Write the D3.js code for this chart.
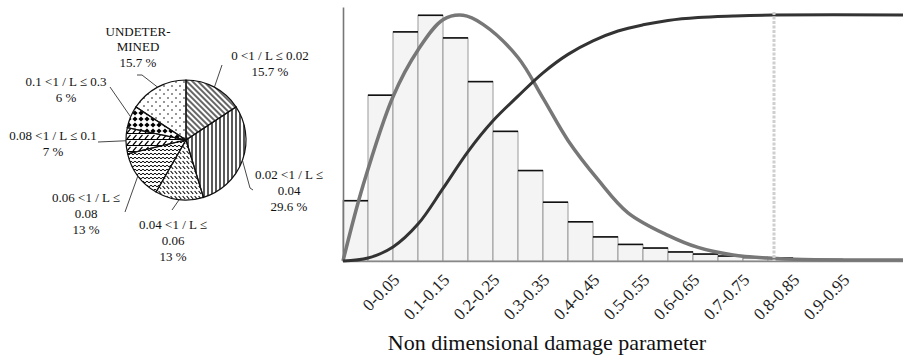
<!DOCTYPE html>
<html>
<head>
<meta charset="utf-8">
<script src="https://cdn.jsdelivr.net/npm/d3@7"></script>
<style>
  body { margin: 0; background: #fff; }
  svg { display: block; font-family: 'Liberation Serif', 'Times New Roman', serif; }
</style>
</head>
<body>
<div id="chart"></div>
<script>
// pie: share of cases per 1/L range
const pieCategories = [
  ['0 <1 / L ≤ 0.02'],
  ['0.02 <1 / L ≤', '0.04'],
  ['0.04 <1 / L ≤', '0.06'],
  ['0.06 <1 / L ≤', '0.08'],
  ['0.08 <1 / L ≤ 0.1'],
  ['0.1 <1 / L ≤ 0.3'],
  ['UNDETER-', 'MINED']
];
const pieValues = [15.7, 29.6, 13, 13, 7, 6, 15.7];

// histogram of the non dimensional damage parameter (% per bin)
const binLabels = ['0-0.05', '0.05-0.1', '0.1-0.15', '0.15-0.2', '0.2-0.25', '0.25-0.3', '0.3-0.35', '0.35-0.4',
  '0.4-0.45', '0.45-0.5', '0.5-0.55', '0.55-0.6', '0.6-0.65', '0.65-0.7', '0.7-0.75', '0.75-0.8',
  '0.8-0.85', '0.85-0.9', '0.9-0.95', '0.95-1'];
const binFreq = [4.0, 11.0, 15.2, 16.3, 14.8, 11.9, 8.6, 6.0, 3.9, 2.6, 1.6, 1.1, 0.86, 0.6, 0.46, 0.33, 0.23, 0.2, 0.13, 0.1];

// fitted density (same units as bins) and cumulative curve
const pdfX = [0, 0.04, 0.1, 0.15, 0.2, 0.24, 0.28, 0.35, 0.4, 0.45, 0.51, 0.57, 0.65, 0.71, 0.78, 0.85, 0.92, 1.12];
const pdfY = [0, 5.0, 10.9, 14.0, 16.0, 16.3, 15.7, 13.5, 10.8, 8.0, 5.4, 3.2, 1.7, 0.9, 0.4, 0.2, 0.1, 0.07];
const cdfX = [0, 0.05, 0.1, 0.15, 0.2, 0.25, 0.3, 0.35, 0.4, 0.45, 0.5, 0.55, 0.6, 0.65, 0.71, 0.78, 0.86, 1.12];
const cdfY = [0, 0.012, 0.057, 0.15, 0.295, 0.445, 0.57, 0.67, 0.765, 0.84, 0.895, 0.935, 0.96, 0.978, 0.99, 0.996, 1.0, 1.0];
const damageLimit = 0.862;

const W = 903, H = 359;
const svg = d3.select('#chart').append('svg').attr('width', W).attr('height', H);

function createPatterns(defs) {
  const pat = (id, w, h) => defs.append('pattern').attr('id', id)
    .attr('patternUnits', 'userSpaceOnUse').attr('width', w).attr('height', h);

  let p = pat('p-back', 4, 4).attr('patternTransform', 'rotate(-45)');
  p.append('line').attr('x1', 2).attr('y1', 0).attr('x2', 2).attr('y2', 4).attr('stroke', '#000').attr('stroke-width', 1.2);

  p = pat('p-vert', 4, 4);
  p.append('line').attr('x1', 2).attr('y1', 0).attr('x2', 2).attr('y2', 4).attr('stroke', '#000').attr('stroke-width', 1.3);

  p = pat('p-dash', 4, 5);
  p.append('line').attr('x1', 0.6).attr('y1', 1).attr('x2', 3.2).attr('y2', 4).attr('stroke', '#000').attr('stroke-width', 1.1);

  p = pat('p-wave', 4, 4);
  p.append('path').attr('d', 'M0 2 Q1 0.4 2 2 T4 2').attr('fill', 'none').attr('stroke', '#000').attr('stroke-width', 1);

  p = pat('p-shingle', 6, 6);
  p.append('path').attr('d', 'M0 5.5 H6 M1 5 L4.5 0.8').attr('fill', 'none').attr('stroke', '#000').attr('stroke-width', 1.2);

  p = pat('p-diamond', 6, 6);
  p.append('path').attr('d', 'M3 0.4 L5.6 3 L3 5.6 L0.4 3 Z').attr('fill', '#000');

  p = pat('p-dots', 8, 8);
  p.append('circle').attr('cx', 2).attr('cy', 2).attr('r', 0.8).attr('fill', '#111');
  p.append('circle').attr('cx', 6).attr('cy', 6).attr('r', 0.8).attr('fill', '#111');
}

function drawPie(svg) {
  const cx = 186, cy = 140, r = 60;
  const fills = ['p-back', 'p-vert', 'p-dash', 'p-wave', 'p-shingle', 'p-diamond', 'p-dots'];
  // label anchor (first baseline) and leader line end points
  const labelPos = [
    {x: 270, y: 60, lead: [[222, 65]]},
    {x: 289, y: 179, lead: [[250, 188], [253, 190]]},
    {x: 173, y: 229, lead: [[172, 210]]},
    {x: 86, y: 202, lead: [[125, 212]]},
    {x: 53, y: 140, lead: [[98, 142]]},
    {x: 66, y: 86, lead: [[110, 87]]},
    {x: 138, y: 35.5, lead: [[142, 75], [137, 75]]}
  ];

  const g = svg.append('g').attr('transform', `translate(${cx},${cy})`);
  const arcs = d3.pie().sort(null).value(d => d)(pieValues);
  const arc = d3.arc().innerRadius(0).outerRadius(r);
  const edge = d3.arc().innerRadius(r).outerRadius(r);

  g.selectAll('path.slice').data(arcs).enter().append('path')
    .attr('class', 'slice')
    .attr('d', arc)
    .attr('fill', (d, i) => `url(#${fills[i]})`)
    .attr('stroke', '#111')
    .attr('stroke-width', 1.2);

  g.selectAll('path.leader').data(arcs).enter().append('path')
    .attr('class', 'leader')
    .attr('d', (d, i) => {
      const c = edge.centroid(d);
      const pts = [c].concat(labelPos[i].lead.map(p => [p[0] - cx, p[1] - cy]));
      return d3.line()(pts);
    })
    .attr('fill', 'none')
    .attr('stroke', '#333')
    .attr('stroke-width', 0.9);

  const labels = svg.append('g').attr('font-size', 13).attr('fill', '#111').attr('text-anchor', 'middle');
  pieCategories.forEach((lines, i) => {
    const all = lines.concat([`${pieValues[i]} %`]);
    const t = labels.append('text').attr('x', labelPos[i].x).attr('y', labelPos[i].y);
    all.forEach((s, j) => {
      t.append('tspan').attr('x', labelPos[i].x).attr('dy', j ? 15.8 : 0).text(s);
    });
  });
}

function drawHistogram(svg) {
  const x0 = 343, x1 = 903, base = 261;
  const x = d3.scaleLinear().domain([0, 1.12]).range([x0, x1]);
  const xb = d3.scaleBand().domain(binLabels).range([x(0), x(1)]).padding(0);
  const yBar = d3.scaleLinear().domain([0, 16.85]).range([base, 7]);
  const yCdf = d3.scaleLinear().domain([0, 1]).range([base, 15]);

  const bars = svg.append('g');
  bars.selectAll('rect').data(binFreq).enter().append('rect')
    .attr('x', (d, i) => xb(binLabels[i]))
    .attr('y', d => yBar(d))
    .attr('width', xb.bandwidth())
    .attr('height', d => base - yBar(d))
    .attr('fill', '#f4f4f4')
    .attr('stroke', '#9a9a9a')
    .attr('stroke-width', 1);
  bars.selectAll('line').data(binFreq).enter().append('line')
    .attr('x1', (d, i) => xb(binLabels[i]))
    .attr('x2', (d, i) => xb(binLabels[i]) + xb.bandwidth())
    .attr('y1', d => yBar(d))
    .attr('y2', d => yBar(d))
    .attr('stroke', '#111')
    .attr('stroke-width', 1.6);

  svg.append('g').attr('transform', `translate(${x0},0)`)
    .call(d3.axisLeft(yBar).tickValues([]).tickSizeOuter(0))
    .select('.domain').attr('stroke', '#777').attr('stroke-width', 1.6);
  svg.append('g').attr('transform', `translate(0,${base})`)
    .call(d3.axisBottom(x).tickValues([]).tickSizeOuter(0))
    .select('.domain').attr('stroke', '#888').attr('stroke-width', 1.6);

  const smooth = d3.curveCatmullRom.alpha(0.5);
  const pdfLine = d3.line().x(d => x(d[0])).y(d => yBar(d[1])).curve(smooth);
  const cdfLine = d3.line().x(d => x(d[0])).y(d => yCdf(d[1])).curve(smooth);

  svg.append('path').datum(pdfX.map((v, i) => [v, pdfY[i]]))
    .attr('d', pdfLine).attr('fill', 'none').attr('stroke', '#777').attr('stroke-width', 3.5);
  svg.append('path').datum(cdfX.map((v, i) => [v, cdfY[i]]))
    .attr('d', cdfLine).attr('fill', 'none').attr('stroke', '#333').attr('stroke-width', 3);

  svg.append('line')
    .attr('x1', x(damageLimit)).attr('x2', x(damageLimit))
    .attr('y1', 12).attr('y2', base)
    .attr('stroke', '#cfcfcf').attr('stroke-width', 3)
    .attr('stroke-dasharray', '3,1.5');

  const tickG = svg.append('g').attr('font-size', 17).attr('fill', '#222').attr('text-anchor', 'end');
  binLabels.forEach((lab, i) => {
    if (i % 2) return;
    const cxp = xb(lab) + xb.bandwidth() / 2 + 45;
    tickG.append('text')
      .attr('transform', `translate(${cxp},281) rotate(-45)`)
      .text(lab);
  });

  svg.append('text')
    .attr('x', 547).attr('y', 350)
    .attr('text-anchor', 'middle')
    .attr('font-size', 22)
    .attr('fill', '#111')
    .text('Non dimensional damage parameter');
}

createPatterns(svg.append('defs'));
drawPie(svg);
drawHistogram(svg);
</script>
</body>
</html>
